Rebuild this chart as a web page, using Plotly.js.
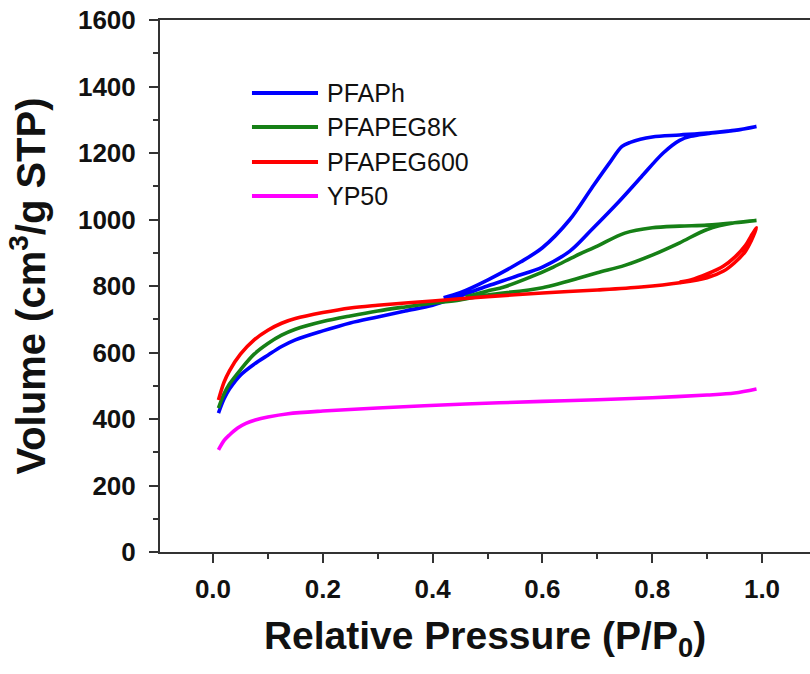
<!DOCTYPE html>
<html>
<head>
<meta charset="utf-8">
<script src="https://cdn.plot.ly/plotly-3.0.1.min.js"></script>
<style>html,body{margin:0;padding:0;background:#fff;}#chart{width:810px;height:674px;}</style>
</head>
<body>
<div id="chart"></div>
<script>
// Series names and colours
const names = ["PFAPh", "PFAPEG8K", "PFAPEG600", "YP50"];
const colors = ["#0000ff", "#168016", "#ff0000", "#ff00ff"];

// PFAPh: adsorption (rising P/P0) then desorption (falling P/P0)
const pfaphP = [0.01,0.02,0.03,0.05,0.075,0.1,0.125,0.15,0.2,0.25,0.3,0.35,0.4,0.45,0.5,0.55,0.6,0.65,0.69,0.74,0.78,0.82,0.85,0.87,0.9,0.95,0.99,
                0.95,0.9,0.85,0.8,0.76,0.745,0.72,0.69,0.65,0.6,0.56,0.5,0.45,0.42];
const pfaphV = [418,460,490,532,565,592,618,638,665,689,707,725,742,770,800,828,857,905,970,1055,1128,1200,1238,1250,1258,1268,1280,
                1268,1260,1254,1248,1232,1220,1165,1095,1000,915,872,818,780,765];

// PFAPEG8K
const peg8kP = [0.01,0.02,0.03,0.05,0.075,0.1,0.125,0.15,0.2,0.25,0.3,0.35,0.4,0.45,0.5,0.6,0.7,0.75,0.8,0.85,0.9,0.95,0.99,
                0.95,0.9,0.85,0.8,0.75,0.7,0.66,0.62,0.58,0.53,0.5,0.46];
const peg8kV = [433,475,505,548,595,627,652,670,693,710,725,737,748,758,773,795,840,862,893,930,970,990,997,
                990,983,980,975,959,920,890,857,828,797,785,767];

// PFAPEG600
const peg600P = [0.01,0.02,0.03,0.05,0.075,0.1,0.125,0.15,0.2,0.25,0.3,0.4,0.5,0.6,0.7,0.78,0.85,0.9,0.93,0.95,0.97,0.98,0.99,
                 0.98,0.97,0.95,0.93,0.9,0.87,0.85];
const peg600V = [457,510,545,595,638,667,688,702,720,734,742,755,768,779,788,797,810,825,845,870,905,935,975,
                 950,922,886,860,836,818,812];

// YP50
const yp50P = [0.01,0.02,0.03,0.045,0.06,0.077,0.1,0.137,0.2,0.3,0.46,0.6,0.7,0.8,0.9,0.95,0.99];
const yp50V = [307,335,352,373,387,397,406,416,424,433,445,453,458,464,472,478,490];

// Axis ticks
const xTicks = [0.0,0.2,0.4,0.6,0.8,1.0];
const xTickText = ["0.0","0.2","0.4","0.6","0.8","1.0"];
const yTicks = [0,200,400,600,800,1000,1200,1400,1600];

const xs = [pfaphP, peg8kP, peg600P, yp50P];
const ys = [pfaphV, peg8kV, peg600V, yp50V];

const traces = names.map((n, i) => ({
  x: xs[i], y: ys[i], name: n, type: "scatter", mode: "lines",
  line: {color: colors[i], width: 3.6, shape: "spline", smoothing: 0.9},
  showlegend: false
}));

// Custom legend (long sample lines as in the reference)
const shapes = [];
const annotations = [];
const legY = [0.8628, 0.7989, 0.7331, 0.6692];
names.forEach((n, i) => {
  shapes.push({type: "line", xref: "paper", yref: "paper", x0: 0.1415, x1: 0.2431,
               y0: legY[i], y1: legY[i], line: {color: colors[i], width: 4}});
  annotations.push({xref: "paper", yref: "paper", x: 0.2538, y: legY[i], xanchor: "left",
                    yanchor: "middle", text: n, showarrow: false,
                    font: {family: "Liberation Sans, Arial, sans-serif", size: 25, color: "#111"}});
});

const tickFont = {family: "Liberation Sans, Arial, sans-serif", size: 26, color: "#111", weight: "bold"};
const layout = {
  width: 810, height: 674,
  margin: {l: 160, r: 0, t: 20, b: 122},
  paper_bgcolor: "#ffffff", plot_bgcolor: "#ffffff",
  xaxis: {
    range: [-0.0965, 1.0874], showgrid: false, zeroline: false,
    showline: true, linecolor: "#333", linewidth: 2, mirror: true,
    ticks: "outside", ticklen: 9, tickwidth: 2, tickcolor: "#333",
    tickvals: xTicks, ticktext: xTickText, tickfont: tickFont, ticklabelstandoff: 4,
    minor: {dtick: 0.1, tick0: 0, ticks: "outside", ticklen: 5, tickwidth: 2, tickcolor: "#333"},
    title: {text: "Relative Pressure (P/P<sub>0</sub>)", standoff: 18,
            font: {family: "Liberation Sans, Arial, sans-serif", size: 39, color: "#111", weight: "bold"}}
  },
  yaxis: {
    range: [0, 1600], showgrid: false, zeroline: false,
    showline: true, linecolor: "#333", linewidth: 2,
    ticks: "outside", ticklen: 9, tickwidth: 2, tickcolor: "#333",
    tickvals: yTicks, tickfont: tickFont, ticklabelstandoff: 8,
    minor: {dtick: 100, tick0: 0, ticks: "outside", ticklen: 5, tickwidth: 2, tickcolor: "#333"},
    title: {text: "Volume (cm<sup>3</sup>/g STP)", standoff: 20,
            font: {family: "Liberation Sans, Arial, sans-serif", size: 40, color: "#111", weight: "bold"}}
  },
  shapes: shapes,
  annotations: annotations
};

Plotly.newPlot("chart", traces, layout, {staticPlot: true, displayModeBar: false});
</script>
</body>
</html>
